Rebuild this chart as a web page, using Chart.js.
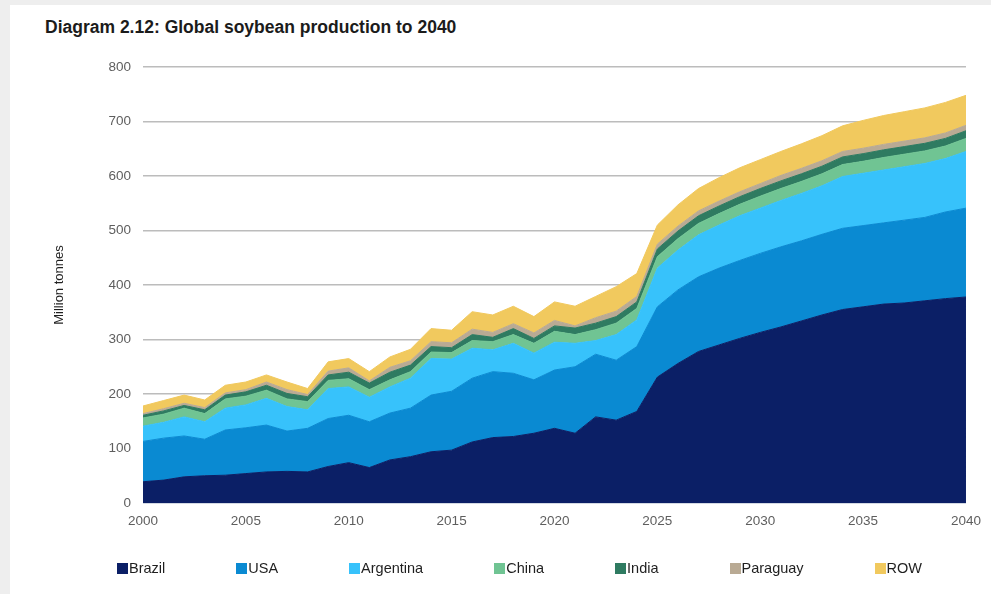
<!DOCTYPE html>
<html>
<head>
<meta charset="utf-8">
<title>Global soybean production to 2040</title>
<script src="https://cdn.jsdelivr.net/npm/chart.js@4.4.1/dist/chart.umd.min.js"></script>
<style>
    html, body { margin: 0; padding: 0; }
    body {
        width: 991px;
        height: 594px;
        position: relative;
        overflow: hidden;
        background: #eeeeee;
        font-family: 'Liberation Sans', Arial, sans-serif;
    }
    #panel { position: absolute; left: 10px; top: 5px; right: 0; bottom: 0; background: #ffffff; }
    #title {
        position: absolute;
        left: 45px;
        top: 17px;
        font-size: 17.5px;
        font-weight: bold;
        color: #1b1b1b;
    }
    #soy_plot { position: absolute; left: 0; top: 0; }
    #legend {
        position: absolute;
        left: 117px;
        top: 560px;
        display: flex;
        gap: 71px;
        font-size: 14.5px;
        color: #1f1f1f;
    }
    #legend .item { display: flex; align-items: center; }
    #legend .swatch { width: 11px; height: 11px; margin-right: 1px; }
</style>
</head>
<body>
<div id="panel"></div>
<div id="title">Diagram 2.12: Global soybean production to 2040</div>
<canvas id="soy_plot" width="991" height="594"></canvas>
<div id="legend"></div>
<script>
'use strict';

// Million tonnes
var years = ['2000', '2001', '2002', '2003', '2004', '2005', '2006', '2007', '2008', '2009',
    '2010', '2011', '2012', '2013', '2014', '2015', '2016', '2017', '2018', '2019',
    '2020', '2021', '2022', '2023', '2024', '2025', '2026', '2027', '2028', '2029',
    '2030', '2031', '2032', '2033', '2034', '2035', '2036', '2037', '2038', '2039', '2040'];

var brazil = [39, 42, 48, 50, 51, 54, 57, 58, 57, 67,
    74, 65, 79, 85, 94, 97, 112, 120, 122, 128,
    137, 128, 158, 152, 168, 231, 256, 278, 290, 302,
    313, 323, 334, 345, 355, 360, 365, 367, 371, 375, 378];

var usa = [74, 77, 75, 67, 83, 84, 86, 74, 80, 88,
    87, 84, 86, 89, 104, 108, 117, 121, 116, 98,
    107, 122, 115, 110, 119, 129, 135, 137, 141, 143,
    145, 147, 147, 148, 149, 149, 149, 152, 153, 159, 163];

var argentina = [28, 29, 35, 32, 40, 42, 49, 45, 34, 55,
    52, 45, 48, 55, 67, 59, 55, 40, 55, 49,
    51, 43, 25, 47, 49, 71, 73, 77, 79, 82,
    83, 85, 87, 89, 95, 96, 97, 98, 99, 98, 104];

var china = [15, 15, 16, 15, 17, 16, 15, 14, 15, 15,
    15, 14, 13, 12, 12, 12, 14, 15, 16, 18,
    20, 16, 20, 21, 21, 21, 21, 21, 21, 21,
    22, 22, 22, 22, 22, 22, 23, 23, 23, 23, 24];

var india = [5, 6, 5, 7, 7, 8, 9, 10, 9, 10,
    12, 12, 14, 12, 10, 9, 11, 8, 11, 9,
    10, 12, 12, 12, 12, 14, 14, 14, 14, 14,
    14, 14, 14, 14, 14, 14, 14, 14, 14, 14, 14];

var paraguay = [3, 4, 4, 4, 4, 4, 6, 7, 4, 7,
    8, 4, 9, 8, 9, 9, 10, 9, 9, 10,
    10, 4, 10, 10, 10, 9, 9, 9, 9, 9,
    9, 10, 10, 10, 10, 10, 10, 10, 10, 10, 10];

var row = [14, 15, 15, 14, 14, 14, 13, 14, 11, 17,
    17, 17, 19, 21, 24, 23, 32, 32, 32, 30,
    34, 36, 39, 45, 42, 35, 39, 41, 43, 44,
    44, 44, 45, 46, 47, 51, 53, 54, 55, 56, 55];

var seriesNames = ['Brazil', 'USA', 'Argentina', 'China', 'India', 'Paraguay', 'ROW'];
var seriesColors = ['#0b1f66', '#0a8ad2', '#37c2fb', '#70c493', '#2f7b61', '#b9aa94', '#f1c95e'];
var xTickLabels = ['2000', '2005', '2010', '2015', '2020', '2025', '2030', '2035', '2040'];

var tickFont = { family: "'Liberation Sans', Arial, sans-serif", size: 13.5 };

function DrawProductionChart(container) {
    var ctx = document.getElementById(container).getContext('2d');
    var values = [brazil, usa, argentina, china, india, paraguay, row];

    var datasets = seriesNames.map(function (name, i) {
        return {
            label: name,
            data: values[i],
            backgroundColor: seriesColors[i],
            borderColor: seriesColors[i],
            borderWidth: 1,
            pointRadius: 0,
            tension: 0,
            fill: i === 0 ? 'origin' : '-1'
        };
    });

    return new Chart(ctx, {
        type: 'line',
        data: {
            labels: years,
            datasets: datasets
        },
        options: {
            responsive: false,
            animation: false,
            layout: {
                padding: { left: 40, right: 25, top: 67, bottom: 61 }
            },
            plugins: {
                legend: { display: false },
                tooltip: { enabled: false }
            },
            scales: {
                x: {
                    grid: { display: false, drawTicks: false },
                    border: { display: true, color: '#d3d9e3', width: 1 },
                    ticks: {
                        autoSkip: false,
                        maxRotation: 0,
                        padding: 10,
                        color: '#5e5e5e',
                        font: tickFont,
                        callback: function (value) {
                            var label = this.getLabelForValue(value);
                            return xTickLabels.indexOf(label) >= 0 ? label : '';
                        }
                    },
                    afterFit: function (scale) {
                        scale.height = 30;
                    }
                },
                y: {
                    stacked: true,
                    min: 0,
                    max: 800,
                    ticks: {
                        stepSize: 100,
                        padding: 12,
                        color: '#5e5e5e',
                        font: tickFont
                    },
                    grid: { color: '#bcbcbc', lineWidth: 1.5, drawTicks: false },
                    border: { display: false },
                    title: {
                        display: true,
                        text: 'Million tonnes',
                        color: '#1f1f1f',
                        font: { family: "'Liberation Sans', Arial, sans-serif", size: 13 },
                        padding: { top: 12, bottom: 0 }
                    },
                    afterFit: function (scale) {
                        scale.width = 103;
                    }
                }
            }
        }
    });
}

// legend sits in html so the wide gaps between entries can match the diagram
function BuildLegend(chart, container) {
    var box = document.getElementById(container);
    var items = Chart.defaults.plugins.legend.labels.generateLabels(chart);
    items.forEach(function (item) {
        var entry = document.createElement('div');
        entry.className = 'item';
        var swatch = document.createElement('span');
        swatch.className = 'swatch';
        swatch.style.background = item.fillStyle;
        var text = document.createElement('span');
        text.textContent = item.text;
        entry.appendChild(swatch);
        entry.appendChild(text);
        box.appendChild(entry);
    });
}

var soyChart = DrawProductionChart('soy_plot');
BuildLegend(soyChart, 'legend');
</script>
</body>
</html>
